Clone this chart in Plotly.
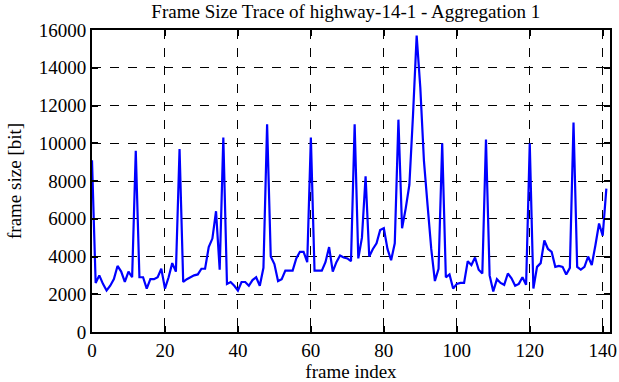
import plotly.graph_objects as go

frame_index = list(range(142))
frame_size = [
    9100, 2600, 3000, 2550, 2200, 2450, 2800, 3500, 3200, 2650, 3200, 2900,   # 0-11
    9600, 2900, 2900, 2300, 2800, 2800, 2900, 3350, 2300, 2900, 3650, 3200,   # 12-23
    9700, 2650, 2800, 2900, 3000, 3050, 3350, 3350, 4500, 4950, 6400, 3300,   # 24-35
    10300, 2550, 2650, 2450, 2200, 2650, 2650, 2450, 2750, 2900, 2450, 3400,  # 36-47
    11000, 4000, 3600, 2700, 2800, 3250, 3250, 3250, 3900, 4250, 4250, 3700,  # 48-59
    10300, 3250, 3250, 3250, 3700, 4500, 3200, 3700, 4050, 3950, 3900, 3750,  # 60-71
    11000, 3900, 5000, 8250, 4000, 4400, 4700, 5400, 5500, 4400, 3800, 4700,  # 72-83
    11250, 5500, 6550, 7800, 11500, 15700, 12950, 9050, 6700, 4400, 2700, 3350,  # 84-95
    10000, 2900, 3050, 2300, 2550, 2600, 2600, 3750, 3550, 3950, 3300, 3100,  # 96-107
    10200, 3000, 2150, 2800, 2600, 2500, 3100, 2850, 2450, 2550, 2900, 2500,  # 108-119
    10000, 2300, 3450, 3650, 4850, 4400, 4250, 3450, 3500, 3450, 3050, 3400,  # 120-131
    11100, 3450, 3300, 3450, 4000, 3550, 4600, 5750, 5100, 7600,              # 132-141
]

x_ticks = [0, 20, 40, 60, 80, 100, 120, 140]
y_ticks = [0, 2000, 4000, 6000, 8000, 10000, 12000, 14000, 16000]

font_family = "Liberation Serif"

fig = go.Figure()
fig.add_trace(go.Scatter(
    x=frame_index, y=frame_size, mode="lines",
    line=dict(color="#0000ff", width=2.2),
    showlegend=False,
))

axis_common = dict(
    showline=True, linecolor="black", linewidth=2, mirror="allticks",
    ticks="inside", ticklen=6, tickcolor="black", tickwidth=1.5,
    showgrid=True, gridcolor="black", gridwidth=1, griddash="dash",
    zeroline=False, automargin=False,
    tickfont=dict(family=font_family, size=19, color="black"),
)

fig.update_layout(
    width=619, height=382,
    paper_bgcolor="white", plot_bgcolor="white",
    margin=dict(l=92, r=9, t=30, b=50),
    font=dict(family=font_family, size=19, color="black"),
    title=dict(text="Frame Size Trace of highway-14-1 - Aggregation 1",
               xref="paper", x=0.49, xanchor="center",
               yref="container", y=0.988, yanchor="top",
               font=dict(family=font_family, size=19, color="black")),
    xaxis=dict(range=[0, 142], tickvals=x_ticks, tickformat="d",
               title=dict(text="frame index", standoff=4,
                          font=dict(family=font_family, size=19)),
               **axis_common),
    yaxis=dict(range=[0, 16000], tickvals=y_ticks, tickformat="d",
               title=dict(text="frame size [bit]", standoff=12,
                          font=dict(family=font_family, size=19)),
               **axis_common),
)

fig.write_html("out.html", config={"displayModeBar": False},
               post_script="document.body.style.margin='0';")
